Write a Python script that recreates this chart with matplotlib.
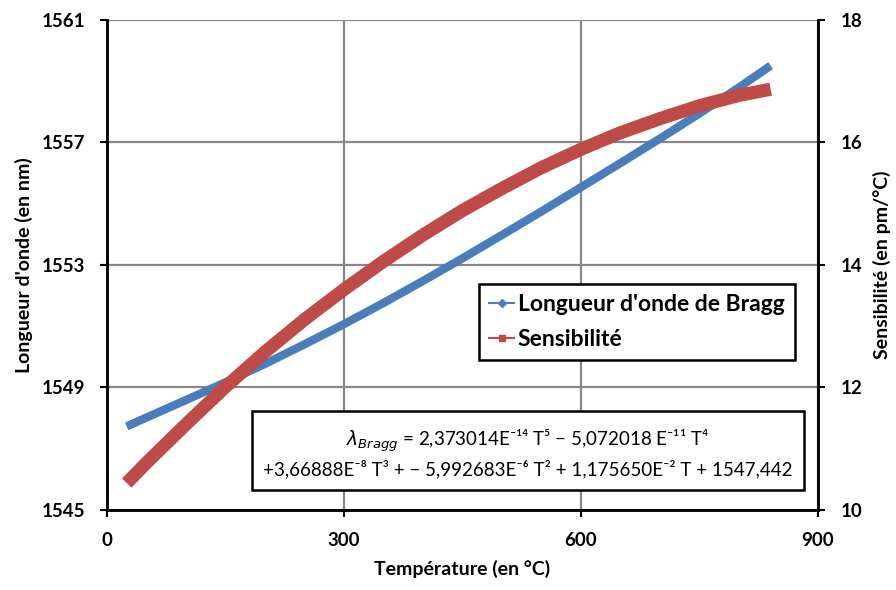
import matplotlib
matplotlib.use("Agg")
import matplotlib.pyplot as plt
from matplotlib.lines import Line2D

# données
temperature = [25, 50, 100, 150, 200, 250, 300, 350, 400, 450, 500,
               550, 600, 650, 700, 750, 800, 840]
longueur_onde = [1547.73, 1548.02, 1548.59, 1549.17, 1549.77, 1550.41,
                 1551.07, 1551.76, 1552.48, 1553.22, 1553.98, 1554.75,
                 1555.54, 1556.33, 1557.13, 1557.95, 1558.80, 1559.51]
sensibilite = [10.44, 10.77, 11.40, 12.01, 12.58, 13.11, 13.60, 14.06,
               14.49, 14.89, 15.25, 15.59, 15.89, 16.16, 16.39, 16.60,
               16.77, 16.87]

x_ticks = [0, 300, 600, 900]
y1_ticks = [1545, 1549, 1553, 1557, 1561]
y2_ticks = [10, 12, 14, 16, 18]

bleu = '#4A7EBB'
rouge = '#BE4B48'
gris = '#878787'

plt.rcParams['font.family'] = ['Lato', 'DejaVu Sans']

fig = plt.figure(figsize=(8.96, 5.9), dpi=100)
ax = fig.add_axes([0.1194, 0.1356, 0.7936, 0.8305])
ax2 = ax.twinx()

ax.plot(temperature, longueur_onde, color=bleu, lw=6, solid_capstyle='butt')
ax2.plot(temperature, sensibilite, color=rouge, lw=9.5, solid_capstyle='butt')

ax.set_xlim(0, 900)
ax.set_ylim(1545, 1561)
ax2.set_ylim(10, 18)
ax.set_xticks(x_ticks)
ax.set_yticks(y1_ticks)
ax2.set_yticks(y2_ticks)

ax.grid(True, color=gris, lw=1.6)
ax.set_axisbelow(True)

for a in (ax, ax2):
    for s in ('left', 'right', 'bottom'):
        a.spines[s].set_linewidth(1.8)
        a.spines[s].set_color('black')
    a.spines['top'].set_visible(False)
    a.tick_params(width=1.5, length=5, labelsize=13.5, pad=11)
    for lab in a.get_xticklabels() + a.get_yticklabels():
        lab.set_fontweight('bold')

ax.set_xlabel('Température (en °C)', fontsize=14, fontweight='bold', labelpad=8)
ax.set_ylabel("Longueur d'onde (en nm)", fontsize=14, fontweight='bold', labelpad=6)
ax2.set_ylabel('Sensibilité (en pm/°C)', fontsize=14, fontweight='bold', labelpad=8)

handles = [
    Line2D([], [], color=bleu, lw=1.5, marker='D', markersize=4),
    Line2D([], [], color=rouge, lw=1.5, marker='s', markersize=5),
]
leg = ax2.legend(handles, ["Longueur d'onde de Bragg", 'Sensibilité'],
                 loc='upper left', bbox_to_anchor=(0.523, 0.462),
                 borderaxespad=0, frameon=True, fancybox=False, framealpha=1,
                 prop={'weight': 'bold', 'size': 16.5},
                 handlelength=1.1, handletextpad=0.15, borderpad=0.45,
                 labelspacing=0.6)
leg.get_frame().set_edgecolor('black')
leg.get_frame().set_linewidth(1.8)

equation = (r"$\lambda_{Bragg}$ = 2,373014E⁻¹⁴ T⁵ − 5,072018 E⁻¹¹ T⁴" "\n"
            "+3,66888E⁻⁸ T³ + − 5,992683E⁻⁶ T² + 1,175650E⁻² T + 1547,442")
ax2.text(0.592, 0.116, equation, transform=ax2.transAxes, ha='center',
         va='center', fontsize=13.5, linespacing=1.35,
         bbox=dict(boxstyle='square,pad=0.6', fc='white', ec='black', lw=1.8))

fig.savefig('out.png', dpi=100)
